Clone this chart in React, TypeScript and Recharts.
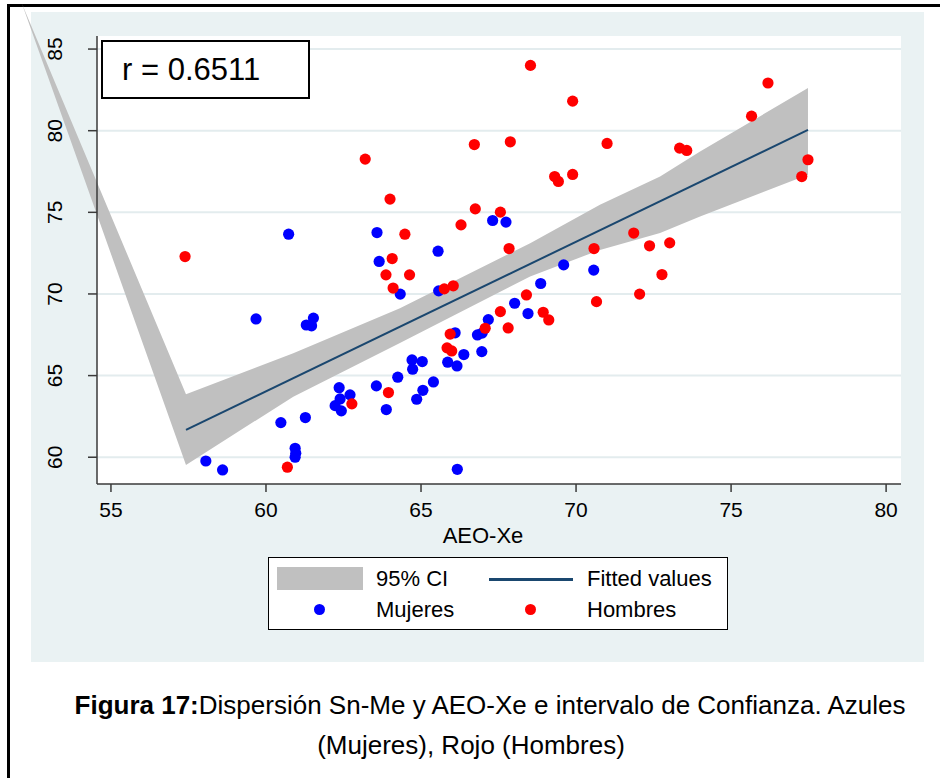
import React from 'react';
import { ComposedChart, Area, Line, Scatter, XAxis, YAxis, CartesianGrid } from 'recharts';

const FONT = '"Liberation Sans", Arial, Helvetica, sans-serif';

const X_TICKS = [55, 60, 65, 70, 75, 80];
const Y_TICKS = [60, 65, 70, 75, 80, 85];

// Mujeres (azul)
const MUJ_X = [
  60.73, 59.68, 61.3, 61.53, 61.47, 60.48, 61.27, 60.94, 60.96, 60.94, 58.06, 58.6,
  67.31, 67.74, 63.58, 65.55, 63.65, 69.6, 70.57, 64.33, 65.57, 68.86, 68.02, 68.45,
  67.17, 66.82, 66.97, 66.96, 66.38, 66.1, 65.86, 66.16, 64.71, 65.04, 64.73, 64.25,
  65.4, 63.56, 65.06, 64.86, 63.88, 62.36, 62.71, 62.39, 62.23, 62.43, 66.17,
];
const MUJ_Y = [
  73.66, 68.47, 68.1, 68.52, 68.05, 62.12, 62.43, 60.55, 60.25, 60.0, 59.77, 59.22,
  74.5, 74.4, 73.76, 72.62, 71.99, 71.78, 71.46, 69.99, 70.19, 70.64, 69.43, 68.8,
  68.43, 67.49, 67.6, 66.47, 66.29, 67.62, 65.82, 65.59, 65.96, 65.86, 65.39, 64.9,
  64.61, 64.37, 64.1, 63.55, 62.92, 64.26, 63.82, 63.57, 63.16, 62.84, 59.26,
];

// Hombres (rojo)
const HOM_X = [
  57.39, 60.69, 68.53, 69.89, 63.2, 66.72, 67.88, 71.0, 69.31, 69.43, 69.89, 64.0,
  66.75, 67.56, 66.29, 64.48, 67.84, 70.58, 64.07, 63.87, 64.63, 64.1, 65.75, 66.04,
  70.66, 68.4, 67.56, 68.94, 69.12, 67.81, 67.07, 65.94, 65.84, 65.99, 63.95, 62.77,
  76.19, 75.66, 73.34, 73.57, 77.48, 77.28, 71.86, 72.37, 73.02, 72.77, 72.05,
];
const HOM_Y = [
  72.29, 59.39, 84.0, 81.81, 78.26, 79.15, 79.32, 79.22, 77.19, 76.89, 77.32, 75.81,
  75.21, 75.01, 74.23, 73.66, 72.78, 72.78, 72.17, 71.17, 71.17, 70.36, 70.31, 70.5,
  69.53, 69.94, 68.92, 68.88, 68.41, 67.92, 67.9, 67.54, 66.7, 66.51, 63.96, 63.27,
  82.92, 80.89, 78.93, 78.79, 78.22, 77.19, 73.73, 72.95, 73.13, 71.19, 69.99,
];

// 95% CI (the first point is the stray vertex seen in the original)
const CI_X = [52.13, 57.42, 60.88, 64.32, 68.52, 70.77, 72.71, 74.0, 77.48];
const CI_LO = [87.78, 59.53, 63.71, 66.99, 71.07, 72.7, 73.73, 74.74, 77.3];
const CI_HI = [87.78, 63.86, 66.37, 69.13, 73.11, 75.46, 77.19, 78.73, 82.61];

// Fitted values
const FIT_X = [57.42, 77.48];
const FIT_Y = [61.67, 80.05];

const mujeres = MUJ_X.map((x, i) => ({ x, y: MUJ_Y[i] }));
const hombres = HOM_X.map((x, i) => ({ x, y: HOM_Y[i] }));
const ciData = CI_X.map((x, i) => ({ x, band: [CI_LO[i], CI_HI[i]] }));
const fitData = FIT_X.map((x, i) => ({ x, fit: FIT_Y[i] }));

const dot = (color: string) => (props: any) => (
  <circle cx={props.cx} cy={props.cy} r={5.6} fill={color} />
);

function YTick({ x, y, payload }: any) {
  return (
    <text
      x={x}
      y={y}
      transform={`rotate(-90 ${x} ${y})`}
      textAnchor="middle"
      fontSize={21}
      fontFamily={FONT}
      fill="#000"
    >
      {payload.value}
    </text>
  );
}

const legendText: React.CSSProperties = {
  position: 'absolute',
  fontSize: 22,
  lineHeight: '26px',
  whiteSpace: 'nowrap',
  color: '#000',
};

const caption: React.CSSProperties = {
  position: 'absolute',
  transform: 'translateX(-50%)',
  whiteSpace: 'nowrap',
  fontSize: 26,
  lineHeight: '30px',
  color: '#000',
};

export default function App() {
  return (
    <div
      style={{
        position: 'relative',
        width: 940,
        height: 778,
        overflow: 'hidden',
        background: '#fff',
        fontFamily: FONT,
      }}
    >
      <style>{'body{margin:0}.ci-band g{clip-path:none !important}'}</style>
      <div
        style={{
          position: 'absolute',
          left: 7,
          top: 4,
          width: 2000,
          height: 2000,
          border: '3px solid #000',
        }}
      />
      <div
        style={{
          position: 'absolute',
          left: 31,
          top: 12,
          width: 893,
          height: 650,
          background: '#EAF2F3',
        }}
      />
      <div style={{ position: 'absolute', left: 0, top: 0 }}>
        <ComposedChart width={940} height={778} margin={{ top: 36, right: 39, bottom: 234, left: 37 }}>
          <CartesianGrid
            vertical={false}
            fill="#fff"
            stroke="#E3ECEE"
            strokeWidth={2}
            horizontalValues={Y_TICKS}
          />
          <XAxis
            type="number"
            dataKey="x"
            domain={[54.55, 80.48]}
            allowDataOverflow
            ticks={X_TICKS}
            height={60}
            tickSize={8}
            tickMargin={10}
            stroke="#3a3a3a"
            strokeWidth={1.5}
            tick={{ fontSize: 21, fill: '#000', fontFamily: FONT }}
            label={{
              value: 'AEO-Xe',
              position: 'insideBottom',
              offset: 1,
              dx: -16,
              style: { fontSize: 22, fill: '#000', fontFamily: FONT },
            }}
          />
          <YAxis
            type="number"
            domain={[58.36, 85.8]}
            allowDataOverflow
            ticks={Y_TICKS}
            width={60}
            tickSize={9}
            tickMargin={26}
            stroke="#3a3a3a"
            strokeWidth={1.5}
            tick={<YTick />}
          />
          <Area
            className="ci-band"
            data={ciData}
            dataKey="band"
            type="linear"
            stroke="none"
            fill="#C0C0C0"
            fillOpacity={1}
            isAnimationActive={false}
          />
          <Line
            data={fitData}
            dataKey="fit"
            type="linear"
            stroke="#1A476F"
            strokeWidth={2}
            dot={false}
            isAnimationActive={false}
          />
          <Scatter data={mujeres} dataKey="y" shape={dot('#0000FF')} isAnimationActive={false} />
          <Scatter data={hombres} dataKey="y" shape={dot('#FF0000')} isAnimationActive={false} />
        </ComposedChart>
      </div>

      <div
        style={{
          position: 'absolute',
          left: 101,
          top: 40,
          width: 186,
          height: 55,
          border: '2px solid #000',
          background: '#fff',
          display: 'flex',
          alignItems: 'center',
          paddingLeft: 19,
          fontSize: 31,
          color: '#000',
        }}
      >
        r = 0.6511
      </div>

      <div
        style={{
          position: 'absolute',
          left: 268,
          top: 557,
          width: 458,
          height: 71,
          border: '1.5px solid #000',
          background: '#fff',
        }}
      >
        <div style={{ position: 'absolute', left: 8, top: 9, width: 86, height: 23, background: '#C0C0C0' }} />
        <span style={{ ...legendText, left: 107, top: 8 }}>95% CI</span>
        <div style={{ position: 'absolute', left: 220, top: 20, width: 84, height: 2.5, background: '#1A476F' }} />
        <span style={{ ...legendText, left: 318, top: 8 }}>Fitted values</span>
        <div
          style={{ position: 'absolute', left: 45, top: 46, width: 11, height: 11, borderRadius: '50%', background: '#0000FF' }}
        />
        <span style={{ ...legendText, left: 107, top: 39 }}>Mujeres</span>
        <div
          style={{ position: 'absolute', left: 256, top: 46, width: 11, height: 11, borderRadius: '50%', background: '#FF0000' }}
        />
        <span style={{ ...legendText, left: 318, top: 39 }}>Hombres</span>
      </div>

      <div style={{ ...caption, left: 490, top: 690 }}>
        <b>Figura 17:</b>Dispersión Sn-Me y AEO-Xe e intervalo de Confianza. Azules
      </div>
      <div style={{ ...caption, left: 471, top: 730 }}>(Mujeres), Rojo (Hombres)</div>
    </div>
  );
}
